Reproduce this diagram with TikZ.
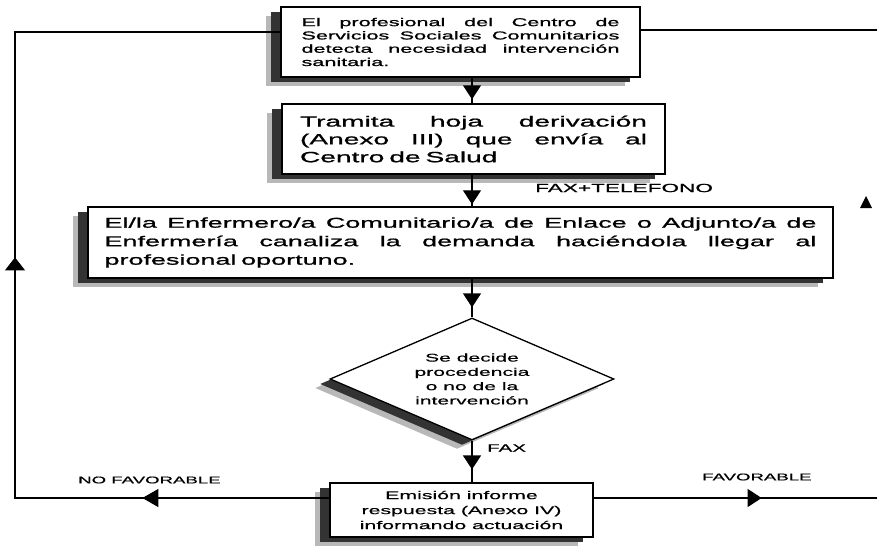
\documentclass[tikz,border=0pt]{standalone}
\usepackage{fontspec}
\setmainfont{Liberation Sans}[FakeStretch=1.9, FakeBold=0.6]
\newfontfamily\heavyfont{Liberation Sans}[FakeStretch=1.9, FakeBold=1.1]
\usetikzlibrary{arrows.meta,shapes.geometric,decorations.markings,shadows}
\newcommand\fbone{\heavyfont\fontsize{11.4}{13.3}\selectfont}
\newcommand\fbtwo{\heavyfont\fontsize{14.8}{17.8}\selectfont}
\newcommand\fbthree{\heavyfont\fontsize{14.2}{18.5}\selectfont}
\newcommand\fbdia{\fontsize{11.1}{14.3}\selectfont}
\newcommand\fbfive{\fontsize{11.2}{15}\selectfont}
\newcommand\flab{\fontsize{9.8}{12}\selectfont}
\newcommand\flabtel{\fontsize{11.9}{13}\selectfont}
\newcommand\flabfax{\fontsize{10.8}{13}\selectfont}
\begin{document}
\begin{tikzpicture}[x=1pt,y=-1pt,
  shadowed/.style={general shadow={fill=black!28, shadow xshift=-15pt, shadow yshift=-9pt},
                   general shadow={fill=black!80, shadow xshift=-10pt, shadow yshift=-5pt}},
  procbox/.style={rectangle, draw, line width=1.4pt, fill=white, inner sep=0pt, shadowed},
  conn/.style={line width=1.3pt},
  tip/.style={postaction={decorate}, decoration={markings, mark=at position #1 with {\arrow{Triangle[width=18pt,length=14pt]}}}},
  lab/.style={anchor=west, inner sep=0pt, font=\flab}
]
\fill[white] (0,0) rectangle (877,549);
\useasboundingbox (0,0) rectangle (877,549);

\node[procbox, minimum width=359pt, minimum height=70pt, text width=318pt, align=left, font=\fbone] (b1) at (460.5,42)
 {\makebox[318pt]{El\hfill profesional\hfill del\hfill Centro\hfill de}\\\makebox[318pt]{Servicios\hfill Sociales\hfill Comunitarios}\\\makebox[318pt]{detecta\hfill necesidad\hfill intervención}\\sanitaria.};

\node[procbox, minimum width=383pt, minimum height=70pt, text width=347pt, align=left, font=\fbtwo] (b2) at (473.5,139)
 {\makebox[347pt]{Tramita\hfill hoja\hfill derivación}\\\makebox[347pt]{(Anexo\hfill III)\hfill que\hfill envía\hfill al}\\Centro de Salud};

\node[procbox, minimum width=745pt, minimum height=71pt, text width=712pt, align=left, font=\fbthree] (b3) at (460.5,242.5)
 {\makebox[712pt]{El/la\hfill Enfermero/a\hfill Comunitario/a\hfill de\hfill Enlace\hfill o\hfill Adjunto/a\hfill de}\\\makebox[712pt]{Enfermería\hfill canaliza\hfill la\hfill demanda\hfill haciéndola\hfill llegar\hfill al}\\profesional oportuno.};

\node[diamond, draw, line width=1.3pt, fill=white, inner sep=0pt, aspect=2.33, minimum width=284pt, minimum height=122pt, align=center, font=\fbdia, shadowed] (d) at (472,379)
 {Se decide\\procedencia\\o no de la\\intervención};

\node[procbox, line width=1.2pt, minimum width=263pt, minimum height=54pt, align=center, font=\fbfive] (b5) at (461.5,510)
 {Emisión informe\\respuesta (Anexo IV)\\informando actuación};

\coordinate (ax) at (472,0);
\draw[conn, tip=-4pt] (b1.south -| ax) -- (b2.north -| ax);
\draw[conn, tip=-2pt] (b2.south -| ax) -- (b3.north -| ax);
\draw[conn, tip=-10pt] (b3.south -| ax) -- (d.north);
\draw[conn, tip=-13pt] (d.south) -- (b5.north -| ax);

\coordinate (lx) at (15,32);
\draw[conn, postaction={decorate}, decoration={markings,
   mark=at position 187pt with {\arrow{Triangle[width=18pt,length=16pt]}},
   mark=at position 555pt with {\arrow{Triangle[width=20pt,length=13pt]}}}]
  ([yshift=12pt]b5.west) -| (lx) -- ([yshift=10pt]b1.west);

\coordinate (rb) at (877,498);
\coordinate (rt) at (877,30);
\draw[conn, tip=168pt] ([yshift=12pt]b5.east) -- (rb);
\draw[conn] ([yshift=12pt]b1.east) -- (rt);

\coordinate (ta) at (866,196);
\fill (ta) -- ++(-6,12) -- ++(12,0) -- cycle;

\node[lab, font=\flabtel] (ft) at (535,188) {FAX+TELEFONO};
\node[lab, font=\flabfax] (fx) at (487,448) {FAX};
\node[lab] (nf) at (78,480) {NO FAVORABLE};
\node[lab] (fv) at (702,477) {FAVORABLE};
\end{tikzpicture}
\end{document}
